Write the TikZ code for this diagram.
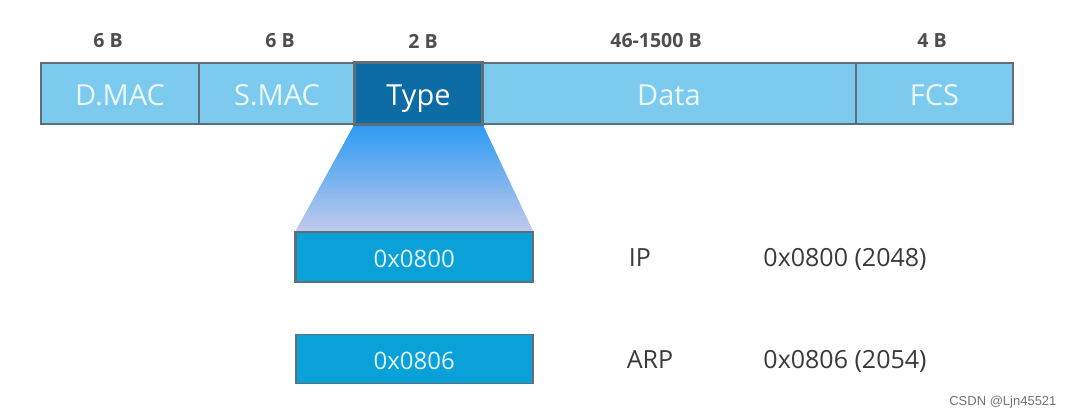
\documentclass[tikz,border=0pt]{standalone}
\usepackage{fontspec}
\setmainfont{Open Sans}
\newfontfamily\wmfont{Liberation Sans}
\definecolor{lightfield}{HTML}{7CCBEE}
\definecolor{darkfield}{HTML}{0D6BA6}
\definecolor{valfield}{HTML}{0AA0D8}
\definecolor{edgegray}{HTML}{5F6E78}
\definecolor{textgray}{HTML}{3A3A3A}
\definecolor{fadetop}{HTML}{2D9BF2}
\definecolor{fadebot}{HTML}{C2CAEC}
\begin{document}
\begin{tikzpicture}[x=1pt,y=-1pt,
  field/.style={draw=edgegray, line width=2pt, fill=lightfield, text=white!92!cyan,
    anchor=north west, minimum height=61pt, inner sep=0pt,
    text height=24pt, text depth=0pt,
    font=\fontsize{29}{33}\selectfont},
  valbox/.style={draw=edgegray, line width=1.5pt, fill=valfield, text=white!88!cyan,
    anchor=north west, minimum width=237pt, minimum height=49pt, inner sep=0pt,
    text height=21pt, text depth=0pt,
    font=\fontsize{24}{28}\selectfont},
  sizelbl/.style={text=textgray!90, font=\fontsize{19.5}{23}\selectfont\bfseries},
  info/.style={text=textgray, font=\fontsize{25}{29}\selectfont,
    text height=18pt, text depth=0pt}]
\useasboundingbox (0,0) rectangle (1074,419);
\fill[white] (0,0) rectangle (1074,419);
% top frame
\node[field, minimum width=158pt] (dmac) at (40,62) {D.MAC};
\node[field, minimum width=156pt] (smac) at (198,62) {S.MAC};
\node[field, minimum width=127pt, fill=darkfield, text=white] (type) at (354,62) {Type};
\node[field, minimum width=374pt] (data) at (481,62) {Data};
\node[field, minimum width=157pt] (fcs) at (855,62) {FCS};
% size labels
\node[sizelbl] (s1) at (108,41) {6 B};
\node[sizelbl] (s2) at (280,41) {6 B};
\node[sizelbl] (s3) at (423,41) {2 B};
\node[sizelbl] (s4) at (656,41) {46-1500 B};
\node[sizelbl] (s5) at (932,41) {4 B};
% value boxes
\node[valbox] (ip) at (295,232) {0x0800};
\node[valbox] (arp) at (295,334) {0x0806};
% fan
\shade[top color=fadetop, bottom color=fadebot]
  (type.south west) -- (type.south east) -- (ip.north east) -- (ip.north west) -- cycle;
\draw[edgegray, line width=1.5pt] (ip.north west) rectangle (ip.south east);
\draw[edgegray, line width=2pt] (type.north west) rectangle (type.south east);
% info
\node[info] (ipn) at (640,258) {IP};
\node[info] (ipv) at (845,258) {0x0800 (2048)};
\node[info] (arpn) at (650,360) {ARP};
\node[info] (arpv) at (845,360) {0x0806 (2054)};
% watermark
\node[text=black!55, font=\wmfont\fontsize{13}{15}\selectfont, anchor=east] (wm) at (1060,402) {CSDN @Ljn45521};
\end{tikzpicture}
\end{document}
